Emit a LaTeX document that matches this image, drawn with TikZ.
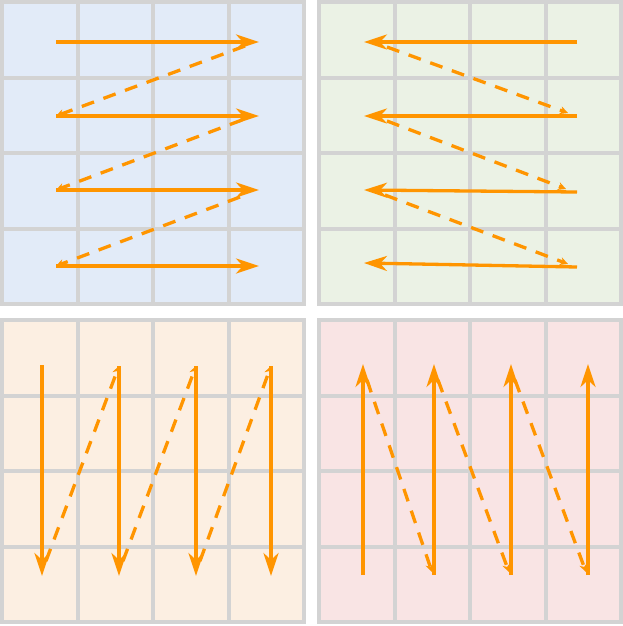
\documentclass[tikz,border=0pt]{standalone}
\usetikzlibrary{arrows.meta}
\definecolor{gridgray}{HTML}{D3D3D3}
\definecolor{fblue}{HTML}{E2EBF8}
\definecolor{fgreen}{HTML}{EBF2E5}
\definecolor{forange}{HTML}{FCEFE2}
\definecolor{fpink}{HTML}{F9E4E4}
\definecolor{arr}{HTML}{FF9500}
\begin{document}
\begin{tikzpicture}[x=1pt,y=-1pt,
  panel/.style={draw=gridgray,line width=4pt},
  solidarrow/.style={draw=arr,line width=3.3pt,-{Stealth[length=23pt,width=15pt,inset=7pt]}},
  dasharrow/.style={draw=arr,line width=3.3pt,dash pattern=on 13pt off 10pt,-{Stealth[length=8pt,width=8pt]}}]
\useasboundingbox (0,0) rectangle (623,626);
% panels
\foreach \ox/\oy/\col in {2/2/fblue,319/2/fgreen,2/320/forange,319/320/fpink}{
  \fill[\col] (\ox,\oy) rectangle ++(302,302);
  \foreach \i in {1,2,3}{
    \draw[gridgray,line width=4pt] (\ox+75.5*\i,\oy) -- ++(0,302);
    \draw[gridgray,line width=4pt] (\ox,\oy+75.5*\i) -- ++(302,0);
  }
  \draw[panel] (\ox,\oy) rectangle ++(302,302);
}
% panel 1: left to right rows
\coordinate (a1s) at (56,42);  \coordinate (a1e) at (259,42);
\coordinate (a2s) at (56,116); \coordinate (a2e) at (259,116);
\coordinate (a3s) at (56,190); \coordinate (a3e) at (259,190);
\coordinate (a4s) at (56,266); \coordinate (a4e) at (259,266);
\coordinate (a1d) at (245,46); \coordinate (a2d) at (242,120); \coordinate (a3d) at (240,197);
\draw[solidarrow] (a1s) -- (a1e);
\draw[solidarrow] (a2s) -- (a2e);
\draw[solidarrow] (a3s) -- (a3e);
\draw[solidarrow] (a4s) -- (a4e);
\draw[dasharrow] (a1d) -- (a2s);
\draw[dasharrow] (a2d) -- (a3s);
\draw[dasharrow] (a3d) -- (a4s);
% panel 2: right to left rows
\coordinate (b1s) at (577,42);  \coordinate (b1e) at (364,42);
\coordinate (b2s) at (577,116); \coordinate (b2e) at (364,116);
\coordinate (b3s) at (577,192); \coordinate (b3e) at (364,190);
\coordinate (b4s) at (577,267); \coordinate (b4e) at (364,263);
\coordinate (b1d) at (387,47); \coordinate (b2d) at (387,121); \coordinate (b3d) at (385,195);
\coordinate (b2t) at (568,113); \coordinate (b3t) at (566,189); \coordinate (b4t) at (568,264);
\draw[solidarrow] (b1s) -- (b1e);
\draw[solidarrow] (b2s) -- (b2e);
\draw[solidarrow] (b3s) -- (b3e);
\draw[solidarrow] (b4s) -- (b4e);
\draw[dasharrow] (b1d) -- (b2t);
\draw[dasharrow] (b2d) -- (b3t);
\draw[dasharrow] (b3d) -- (b4t);
% panel 3: columns downward
\coordinate (c1s) at (42,365);  \coordinate (c1e) at (42,576);
\coordinate (c2s) at (119,366); \coordinate (c2e) at (119,576);
\coordinate (c3s) at (196,366); \coordinate (c3e) at (196,576);
\coordinate (c4s) at (271,366); \coordinate (c4e) at (271,576);
\coordinate (c1d) at (46,561); \coordinate (c2d) at (123,561); \coordinate (c3d) at (200,561);
\draw[solidarrow] (c1s) -- (c1e);
\draw[solidarrow] (c2s) -- (c2e);
\draw[solidarrow] (c3s) -- (c3e);
\draw[solidarrow] (c4s) -- (c4e);
\draw[dasharrow] (c1d) -- (c2s);
\draw[dasharrow] (c2d) -- (c3s);
\draw[dasharrow] (c3d) -- (c4s);
% panel 4: columns upward
\coordinate (d1s) at (363,575); \coordinate (d1e) at (363,364);
\coordinate (d2s) at (434,575); \coordinate (d2e) at (434,364);
\coordinate (d3s) at (511,575); \coordinate (d3e) at (511,364);
\coordinate (d4s) at (588,575); \coordinate (d4e) at (588,364);
\coordinate (d1d) at (367,380); \coordinate (d2d) at (438,380); \coordinate (d3d) at (515,380);
\coordinate (d2t) at (432,572); \coordinate (d3t) at (509,572); \coordinate (d4t) at (586,572);
\draw[solidarrow] (d1s) -- (d1e);
\draw[solidarrow] (d2s) -- (d2e);
\draw[solidarrow] (d3s) -- (d3e);
\draw[solidarrow] (d4s) -- (d4e);
\draw[dasharrow] (d1d) -- (d2t);
\draw[dasharrow] (d2d) -- (d3t);
\draw[dasharrow] (d3d) -- (d4t);
\end{tikzpicture}
\end{document}
